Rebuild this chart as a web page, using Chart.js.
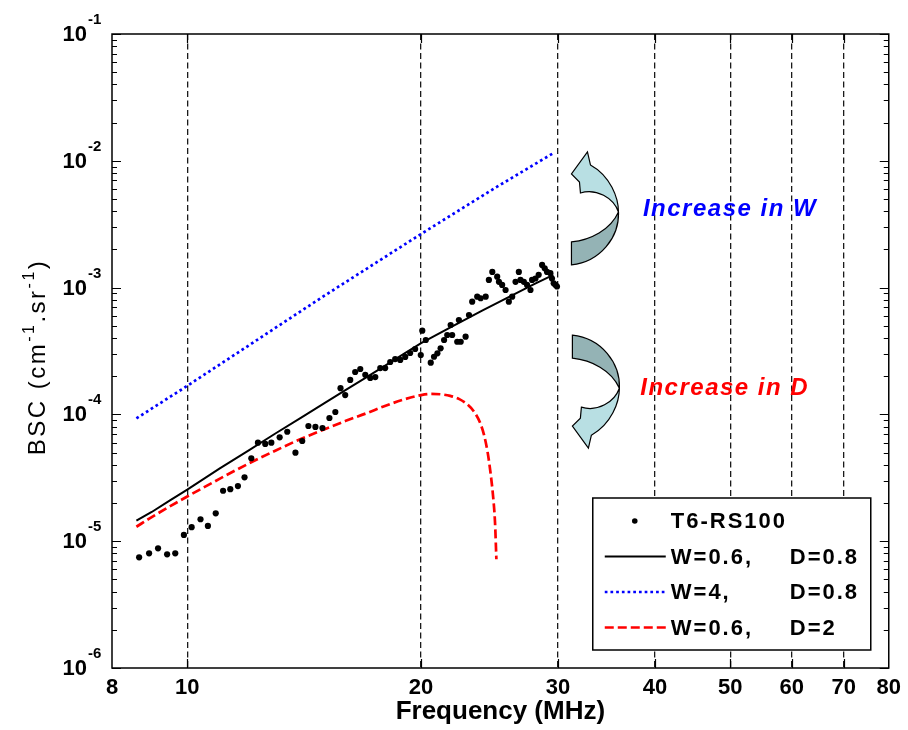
<!DOCTYPE html>
<html>
<head>
<meta charset="utf-8">
<script src="https://cdn.jsdelivr.net/npm/chart.js@4.4.1/dist/chart.umd.min.js"></script>
<style>
  html, body { margin: 0; padding: 0; background: #fff; }
  #bscChart { display: block; }
</style>
</head>
<body>
<canvas id="bscChart" width="908" height="730"></canvas>
<script>
const FONT = '"Liberation Sans", Arial, Helvetica, sans-serif';

// measured BSC of T6-RS100 (MHz, cm^-1.sr^-1)
const dotFreq = [
  8.67, 8.93, 9.17, 9.42, 9.65, 9.90, 10.13, 10.40, 10.63, 10.88,
  11.12, 11.36, 11.62, 11.85, 12.09, 12.33, 12.60, 12.83, 13.15, 13.45,
  13.78, 14.06, 14.32, 14.62, 14.93, 15.24, 15.51, 15.75, 15.97, 16.21,
  16.45, 16.70, 16.95, 17.20, 17.46, 17.72, 17.98, 18.25, 18.52, 18.80,
  19.08, 19.36, 19.65, 19.98, 20.07, 20.28, 20.58, 20.78, 20.99, 21.19,
  21.41, 21.61, 21.83, 21.93, 22.26, 22.37, 22.49, 22.82, 23.05, 23.27,
  23.62, 23.86, 24.22, 24.45, 24.70, 25.06, 25.19, 25.43, 25.69, 25.94,
  26.20, 26.46, 26.72, 26.85, 27.12, 27.38, 27.66, 27.79, 28.07, 28.34,
  28.63, 28.85, 29.05, 29.34, 29.48, 29.63, 29.79, 29.92
];
const dotBsc = [
  7.46e-6, 8.03e-6, 8.79e-6, 7.88e-6, 8.03e-6, 1.12e-5, 1.29e-5, 1.49e-5, 1.32e-5, 1.66e-5,
  2.50e-5, 2.57e-5, 2.72e-5, 3.19e-5, 4.51e-5, 5.98e-5, 5.85e-5, 5.98e-5, 6.6e-5, 7.3e-5,
  4.99e-5, 6.17e-5, 8.10e-5, 7.96e-5, 7.81e-5, 9.37e-5, 1.045e-4, 1.61e-4, 1.42e-4, 1.87e-4,
  2.16e-4, 2.28e-4, 2.05e-4, 1.94e-4, 1.97e-4, 2.32e-4, 2.32e-4, 2.59e-4, 2.73e-4, 2.69e-4,
  2.84e-4, 3.05e-4, 3.28e-4, 2.94e-4, 4.57e-4, 3.86e-4, 2.56e-4, 2.85e-4, 3.03e-4, 3.32e-4,
  3.86e-4, 4.23e-4, 5.07e-4, 4.23e-4, 3.74e-4, 5.55e-4, 3.74e-4, 4.10e-4, 6.08e-4, 7.74e-4,
  8.48e-4, 8.24e-4, 8.48e-4, 1.15e-3, 1.33e-3, 1.22e-3, 1.11e-3, 1.05e-3, 9.57e-4, 7.74e-4,
  8.48e-4, 1.11e-3, 1.33e-3, 1.15e-3, 1.11e-3, 1.05e-3, 9.57e-4, 1.15e-3, 1.18e-3, 1.26e-3,
  1.51e-3, 1.42e-3, 1.33e-3, 1.30e-3, 1.18e-3, 1.08e-3, 1.05e-3, 1.02e-3
];

// model: W=0.6, D=0.8
const fitFreq = [8.6, 9, 9.5, 10, 11, 12, 13, 14, 15, 16, 17, 18, 19, 20, 22, 24, 26, 28, 29.6];
const fitBsc = [1.45e-5, 1.7e-5, 2.1e-5, 2.55e-5, 3.74e-5, 5.2e-5, 7.1e-5, 9.4e-5, 1.22e-4, 1.56e-4,
  1.96e-4, 2.44e-4, 3.0e-4, 3.65e-4, 5.0e-4, 6.6e-4, 8.5e-4, 1.07e-3, 1.26e-3];

// model: W=4, D=0.8
const wideFreq = [8.6, 10, 12, 15, 20, 25, 29.6];
const wideBsc = [9.3e-5, 1.68e-4, 3.5e-4, 8.6e-4, 2.65e-3, 6.2e-3, 1.15e-2];

// model: W=0.6, D=2
const deepFreq = [8.6, 9, 10, 11, 12, 13, 14, 15, 16, 17, 18, 19, 20, 20.6, 21.2, 21.8, 22.4,
  22.9, 23.4, 23.8, 24.1, 24.35, 24.55, 24.75, 24.9, 25.0];
const deepBsc = [1.3e-5, 1.55e-5, 2.25e-5, 3.1e-5, 4.1e-5, 5.2e-5, 6.4e-5, 7.6e-5, 8.9e-5, 1.02e-4,
  1.17e-4, 1.31e-4, 1.42e-4, 1.45e-4, 1.44e-4, 1.40e-4, 1.32e-4,
  1.21e-4, 1.05e-4, 8.7e-5, 6.9e-5, 5.1e-5, 3.6e-5, 2.3e-5, 1.4e-5, 7.2e-6];

const seriesLabels = ['T6-RS100', 'W=0.6,|D=0.8', 'W=4,|D=0.8', 'W=0.6,|D=2'];

const freqTicks = [8, 10, 20, 30, 40, 50, 60, 70, 80];
const bscTicks = [1e-6, 1e-5, 1e-4, 1e-3, 1e-2, 1e-1];

const pts = (xs, ys) => xs.map((x, i) => ({ x: x, y: ys[i] }));

// text with extra tracking, falls back silently if unsupported
function spaced(ctx, px) {
  if ('letterSpacing' in ctx) ctx.letterSpacing = px + 'px';
}

// box, inward ticks, y labels with exponents, y title
const framePlugin = {
  id: 'frame',
  afterDatasetsDraw(chart) {
    const { ctx, chartArea: a, scales } = chart;
    const ys = scales.y, xs = scales.x;
    ctx.save();
    ctx.strokeStyle = '#000';
    ctx.lineWidth = 1.5;
    ctx.strokeRect(a.left, a.top, a.right - a.left, a.bottom - a.top);

    ctx.lineWidth = 1.2;
    ctx.beginPath();
    for (let e = -6; e <= -1; e++) {
      for (let m = 1; m <= 9; m++) {
        const v = m * Math.pow(10, e);
        if (v > 0.1 * 1.0001) break;
        const py = Math.round(ys.getPixelForValue(v)) + 0.5;
        const len = m === 1 ? 9 : 5;
        ctx.moveTo(a.left, py); ctx.lineTo(a.left + len, py);
        ctx.moveTo(a.right, py); ctx.lineTo(a.right - len, py);
      }
    }
    freqTicks.slice(1, -1).forEach(f => {
      const px = Math.round(xs.getPixelForValue(f)) + 0.5;
      ctx.moveTo(px, a.bottom); ctx.lineTo(px, a.bottom - 9);
      ctx.moveTo(px, a.top); ctx.lineTo(px, a.top + 9);
    });
    ctx.stroke();
    ctx.restore();
  },
  afterDraw(chart) {
    const { ctx, chartArea: a, scales } = chart;
    const ys = scales.y;
    ctx.save();
    ctx.fillStyle = '#000';
    ys.ticks.forEach(t => {
      const py = ys.getPixelForValue(t.value);
      const exp = Math.round(Math.log10(t.value));
      ctx.font = 'bold 22px ' + FONT;
      ctx.textAlign = 'right';
      ctx.textBaseline = 'middle';
      ctx.fillText('10', a.left - 25, py + 1);
      ctx.font = 'bold 15px ' + FONT;
      ctx.textAlign = 'left';
      ctx.textBaseline = 'alphabetic';
      ctx.fillText(String(exp), a.left - 24, py - 10);
    });

    // rotated y title with superscripts
    const parts = [
      ['BSC (cm', false], ['-1', true], ['.sr', false], ['-1', true], [')', false]
    ];
    const mainFont = '24px ' + FONT, supFont = '16px ' + FONT;
    spaced(ctx, 2.5);
    let total = 0;
    parts.forEach(p => { ctx.font = p[1] ? supFont : mainFont; total += ctx.measureText(p[0]).width; });
    ctx.translate(45, 357);
    ctx.rotate(-Math.PI / 2);
    ctx.textAlign = 'left';
    ctx.textBaseline = 'alphabetic';
    let cx = -total / 2;
    parts.forEach(p => {
      ctx.font = p[1] ? supFont : mainFont;
      ctx.fillText(p[0], cx, p[1] ? -11 : 0);
      cx += ctx.measureText(p[0]).width;
    });
    ctx.restore();
  }
};

// curved arrows and the two captions
function drawCurlArrow(ctx, x0, y0, dir) {
  const s = dir;
  ctx.save();
  ctx.translate(x0, y0);
  ctx.lineWidth = 1.2;
  ctx.strokeStyle = '#000';
  ctx.lineJoin = 'miter';
  // head half
  ctx.beginPath();
  ctx.moveTo(0, 0);
  ctx.bezierCurveTo(0, -14 * s, -8, -36 * s, -28, -47 * s);
  ctx.lineTo(-31, -60 * s);
  ctx.lineTo(-47, -38 * s);
  ctx.lineTo(-39, -30 * s);
  ctx.lineTo(-38, -19 * s);
  ctx.bezierCurveTo(-22, -24 * s, -5, -14 * s, 0, 0);
  ctx.closePath();
  ctx.fillStyle = '#b8dfe3';
  ctx.fill();
  ctx.stroke();
  // tail half
  ctx.beginPath();
  ctx.moveTo(0, 0);
  ctx.bezierCurveTo(1, 25 * s, -18, 50 * s, -47, 53 * s);
  ctx.lineTo(-47, 30 * s);
  ctx.bezierCurveTo(-28, 28 * s, -8, 18 * s, 0, 0);
  ctx.closePath();
  ctx.fillStyle = '#94b3b5';
  ctx.fill();
  ctx.stroke();
  ctx.restore();
}

const notesPlugin = {
  id: 'notes',
  afterDatasetsDraw(chart, args, opts) {
    const { ctx, scales } = chart;
    opts.arrows.forEach(ar => {
      drawCurlArrow(ctx, scales.x.getPixelForValue(ar.f), scales.y.getPixelForValue(ar.v), ar.dir);
    });
    ctx.save();
    ctx.font = 'italic bold 24px ' + FONT;
    ctx.textAlign = 'left';
    ctx.textBaseline = 'alphabetic';
    spaced(ctx, 1.5);
    opts.captions.forEach(c => {
      ctx.fillStyle = c.color;
      ctx.fillText(c.text, scales.x.getPixelForValue(c.f), scales.y.getPixelForValue(c.v));
    });
    ctx.restore();
  }
};

// boxed legend in the lower right, two text columns
const legendBoxPlugin = {
  id: 'legendBox',
  afterDatasetsDraw(chart) {
    const { ctx, chartArea: a } = chart;
    const w = 278, h = 152;
    const x0 = a.right - 18 - w, y0 = a.bottom - 18 - h;
    ctx.save();
    ctx.fillStyle = '#fff';
    ctx.fillRect(x0, y0, w, h);
    ctx.strokeStyle = '#000';
    ctx.lineWidth = 1.5;
    ctx.strokeRect(x0, y0, w, h);
    ctx.font = 'bold 22px ' + FONT;
    ctx.textBaseline = 'middle';
    ctx.textAlign = 'left';
    spaced(ctx, 2);
    chart.data.datasets.forEach((ds, i) => {
      const yy = y0 + 23 + i * 35.5;
      if (ds.showLine) {
        ctx.save();
        ctx.strokeStyle = ds.borderColor;
        ctx.lineWidth = ds.borderWidth;
        ctx.setLineDash(ds.borderDash || []);
        ctx.beginPath();
        ctx.moveTo(x0 + 12, yy);
        ctx.lineTo(x0 + 73, yy);
        ctx.stroke();
        ctx.restore();
      } else {
        ctx.beginPath();
        ctx.arc(x0 + 42, yy, 2.8, 0, Math.PI * 2);
        ctx.fillStyle = ds.backgroundColor;
        ctx.fill();
      }
      const cols = ds.label.split('|');
      ctx.fillStyle = '#000';
      ctx.fillText(cols[0], x0 + 78, yy + 1);
      if (cols[1]) ctx.fillText(cols[1], x0 + 197, yy + 1);
    });
    ctx.restore();
  }
};

new Chart(document.getElementById('bscChart'), {
  type: 'scatter',
  data: {
    datasets: [
      {
        label: seriesLabels[0],
        data: pts(dotFreq, dotBsc),
        showLine: false,
        pointRadius: 3.1,
        pointBorderWidth: 0,
        backgroundColor: '#000',
        borderColor: '#000'
      },
      {
        label: seriesLabels[1],
        data: pts(fitFreq, fitBsc),
        showLine: true,
        pointRadius: 0,
        borderColor: '#000',
        borderWidth: 2,
        borderDash: []
      },
      {
        label: seriesLabels[2],
        data: pts(wideFreq, wideBsc),
        showLine: true,
        pointRadius: 0,
        borderColor: '#0000ff',
        borderWidth: 2.7,
        borderDash: [2.7, 3]
      },
      {
        label: seriesLabels[3],
        data: pts(deepFreq, deepBsc),
        showLine: true,
        pointRadius: 0,
        borderColor: '#ff0000',
        borderWidth: 2.7,
        borderDash: [9, 4],
        cubicInterpolationMode: 'monotone'
      }
    ]
  },
  options: {
    responsive: false,
    animation: false,
    events: [],
    layout: { padding: { top: 34, right: 17, left: 0, bottom: 0 } },
    plugins: {
      legend: { display: false },
      tooltip: { enabled: false },
      notes: {
        arrows: [
          { f: 35.9, v: 3.95e-3, dir: 1 },
          { f: 36.0, v: 1.61e-4, dir: -1 }
        ],
        captions: [
          { text: 'Increase in W', f: 38.6, v: 3.67e-3, color: '#0000ff' },
          { text: 'Increase in D', f: 38.3, v: 1.42e-4, color: '#ff0000' }
        ]
      }
    },
    scales: {
      x: {
        type: 'logarithmic',
        min: 8,
        max: 80,
        position: 'bottom',
        afterBuildTicks: s => { s.ticks = freqTicks.map(v => ({ value: v })); },
        afterFit: s => { s.height = 62; },
        grid: {
          drawTicks: false,
          lineWidth: 1.3,
          color: c => (c.tick && (c.tick.value === 8 || c.tick.value === 80)) ? 'rgba(0,0,0,0)' : '#1a1a1a'
        },
        border: { display: false, dash: [6, 3.5] },
        ticks: {
          autoSkip: false,
          maxRotation: 0,
          padding: 7,
          color: '#000',
          font: { family: FONT, size: 22, weight: 'bold' },
          callback: v => String(v)
        },
        title: {
          display: true,
          text: 'Frequency (MHz)',
          color: '#000',
          font: { family: FONT, size: 26, weight: 'bold' },
          padding: { top: 0, bottom: 3 }
        }
      },
      y: {
        type: 'logarithmic',
        min: 1e-6,
        max: 1e-1,
        afterBuildTicks: s => { s.ticks = bscTicks.map(v => ({ value: v })); },
        afterFit: s => { s.width = 112; },
        grid: { display: false },
        border: { display: false },
        ticks: { display: false }
      }
    }
  },
  plugins: [framePlugin, notesPlugin, legendBoxPlugin]
});
</script>
</body>
</html>
